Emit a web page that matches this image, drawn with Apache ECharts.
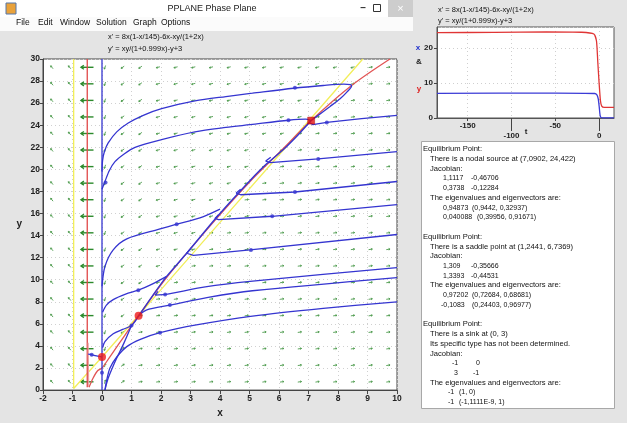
<!DOCTYPE html>
<html>
<head>
<meta charset="utf-8">
<script src="https://cdn.jsdelivr.net/npm/echarts@6/dist/echarts.min.js"></script>
<style>
  html, body { margin: 0; padding: 0; background: #e4e4e4; }
  #main { width: 627px; height: 423px; }
</style>
</head>
<body>
<div id="main"></div>
<script>
// ---- phase plane data ----
const xTicks = { min: -2, max: 10, step: 1 };
const yTicks = { min: 0, max: 30, step: 2 };

// direction field grid: column / row centres and arrow kind per cell
const fieldCols = [-1.7, -1.1, -0.5, 0.1, 0.7, 1.3, 1.9, 2.5, 3.1, 3.7, 4.3, 4.9, 5.5, 6.1, 6.7, 7.3, 7.9, 8.5, 9.1, 9.7];
const fieldRows = [29.25, 27.75, 26.25, 24.75, 23.25, 21.75, 20.25, 18.75, 17.25, 15.75, 14.25, 12.75, 11.25, 9.75, 8.25, 6.75, 5.25, 3.75, 2.25, 0.75];
const fieldDirs = [
  'qqLvddllllllllllllrr',
  'qqLvddlllllllllllrrr',
  'qqLvddllllllllllrrrr',
  'qqLvddlllllllllrrrrr',
  'qqLvddllllllllrrrrrr',
  'qqLvddllllllllrrrrrr',
  'qqLvddlllllllrrrrrrr',
  'qqLvddllllllrrrrrrrr',
  'qqLvddlllllrrrrrrrrr',
  'qqLvddllllrrrrrrrrrr',
  'qqLvddlllrrrrrrrrrrr',
  'qqLvddlllrrrrrrrrrrr',
  'qqLvddllrrrrrrrrrrrr',
  'qqLvddlrrrrrrrrrrrrr',
  'qqLvddrrrrrrrrrrrrrr',
  'qqLvdrrrrrrrrrrrrrrr',
  'qqLvdrrrrrrrrrrrrrrr',
  'qqLverrrrrrrrrrrrrrr',
  'qqLuerrrrrrrrrrrrrrr',
  'qqLuerrrrrrrrrrrrrrr'
];
// arrow heading in degrees (screen, counter-clockwise from +x)
const dirAngle = { q: 130, L: 180, v: 250, d: 215, l: 195, r: 8, e: 35, u: 75 };

// nullclines
const nullY = [[-0.96, 30], [-0.96, 0.15], [0, 3], [1.25, 6.8], [2, 9.1], [4, 15.2], [6, 21.3], [8.84, 30]];
const nullXVert = [[-0.5, 30], [-0.5, 0.25]];
const nullXVert2 = [[-0.47, 4.3], [-0.45, 0.3]];
const nullXCurve = [[-0.44, 0.25], [-0.3, 1.1], [-0.15, 1.75], [0, 2.0], [0.25, 2.95], [0.6, 4.3], [1.24, 6.74], [2.19, 10.2],
  [3.77, 15.2], [5.02, 18.9], [6.0, 21.5], [7.09, 24.42], [8.46, 27.6], [9.76, 30]];

// solution curves
const trajAxis = [[0, 0], [0, 30]];
const trajA = [[0, 19.8], [0.02, 20.8], [0.08, 21.6], [0.21, 22.4], [0.5, 23.4], [0.89, 24.2], [1.4, 24.9], [2.02, 25.5],
  [3.15, 26.2], [4.2, 26.6], [5.1, 26.9], [6.49, 27.35], [7.5, 27.6], [8.2, 27.72], [8.42, 27.68], [8.46, 27.55],
  [8.3, 27.0], [8.07, 26.4], [7.73, 25.7], [7.28, 24.8], [7.09, 24.42]];
const trajDiag = [[7.09, 24.42], [6.71, 23.3], [6.15, 21.8], [5.58, 20.5], [5.02, 19.0], [4.4, 17.2], [3.77, 15.3],
  [2.87, 12.4], [2.19, 10.3], [1.7, 8.5], [1.25, 6.75]];
const trajB = [[0, 18.2], [0.1, 18.9], [0.25, 19.9], [0.44, 20.7], [0.75, 21.4], [1.12, 22.0], [2.02, 22.7], [3.15, 23.4],
  [4.2, 23.8], [5.02, 24.05], [6.32, 24.45], [6.9, 24.55], [7.09, 24.42]];
const trajB2 = [[7.02, 24.25], [7.15, 24.05], [7.62, 24.25], [8.8, 24.6], [10, 24.9]];
const trajE1 = [[5.72, 21.1], [5.55, 20.75], [5.7, 20.62], [7.33, 20.95], [10, 21.6]];
const trajE2 = [[4.7, 18.2], [4.55, 17.85], [4.7, 17.7], [6.54, 17.95], [10, 18.9]];
const trajE3 = [[3.95, 15.9], [3.83, 15.55], [3.95, 15.45], [5.77, 15.75], [10, 16.8]];
const trajE4 = [[3.0, 12.8], [2.87, 12.4], [3.1, 12.2], [5.02, 12.7], [10, 14.1]];
const trajE5 = [[1.9, 8.95], [1.8, 8.6], [2.14, 8.67], [3.5, 9.35], [5.02, 9.85], [10, 11.1]];
const trajE6 = [[1.25, 6.75], [1.5, 7.25], [2.3, 7.7], [3.6, 8.4], [5.1, 9.0], [10, 10.2]];
const trajE7 = [[0.1, 0], [0.15, 0.8], [0.27, 2.0], [0.5, 3.0], [0.84, 3.94], [1.3, 4.6], [1.97, 5.2], [3.2, 5.9],
  [5.1, 6.7], [7.5, 7.4], [10, 8.0]];
const trajF1 = [[0.02, 3.85], [0.1, 4.4], [0.38, 5.1], [0.7, 5.5], [1.0, 5.85], [1.25, 6.75]];
const trajF2 = [[0.1, 0], [0.2, 1.0], [0.35, 2.0], [0.5, 2.9], [0.75, 4.3], [1.0, 5.85]];
const trajC = [[0, 9.4], [0.1, 11.2], [0.38, 12.7], [0.84, 13.7], [1.97, 14.6], [2.53, 15.03], [3.32, 15.6], [4.0, 16.4]];
const trajG = [[0.02, 7.05], [0.15, 7.7], [0.38, 8.2], [0.8, 8.7], [1.23, 9.05], [1.7, 9.6], [2.19, 10.3]];
const trajH = [[-0.47, 3.25], [-0.35, 3.2], [-0.15, 3.08], [0, 3.0]];
const trajDots = [[6.54, 27.4], [6.32, 24.45], [7.62, 24.25], [7.33, 20.95], [6.54, 17.95], [5.77, 15.75], [5.05, 12.7],
  [2.53, 15.03], [1.23, 9.05], [2.14, 8.67], [2.3, 7.7], [1.0, 5.85], [1.97, 5.2], [-0.35, 3.2], [0, 1.57], [0.12, 18.8]];

const sources = [[7.09, 24.42]];
const otherEquilibria = [[1.24, 6.74], [0, 3]];

// t-plot data
const tLabels = [-150, -100, -50, 0];
const tLow = [-100, 0];
const tRed = [[-185, 24.4], [-120, 24.45], [-60, 24.6], [-20, 24.5], [-6, 24.0], [-3, 22], [-1.5, 16], [0, 10], [1.5, 5],
  [3, 3.4], [6, 3.05], [17, 3.05]];
const tBlue = [[-185, 7.05], [-50, 7.1], [-5, 7.0], [-2.5, 6.6], [-1, 5.5], [0, 3.5], [1, 1.0], [2, 0.15], [4, 0.02], [17, 0.02]];

// equilibrium report: [line, x, text, numeric?]
const reportLines = [
  [0, 423, 'Equilibrium Point:'],
  [1, 430, 'There is a nodal source at (7,0902, 24,422)'],
  [2, 430, 'Jacobian:'],
  [3, 443, '1,1117', 1], [3, 471, '-0,46706', 1],
  [4, 443, '0,3738', 1], [4, 471, '-0,12284', 1],
  [5, 430, 'The eigenvalues and eigenvectors are:'],
  [6, 443, '0,94873', 1], [6, 472, '(0,9442, 0,32937)', 1],
  [7, 443, '0,040088', 1], [7, 477, '(0,39956, 0,91671)', 1],
  [9, 423, 'Equilibrium Point:'],
  [10, 430, 'There is a saddle point at (1,2441, 6,7369)'],
  [11, 430, 'Jacobian:'],
  [12, 443, '1,309', 1], [12, 471, '-0,35666', 1],
  [13, 443, '1,3393', 1], [13, 471, '-0,44531', 1],
  [14, 430, 'The eigenvalues and eigenvectors are:'],
  [15, 443, '0,97202', 1], [15, 472, '(0,72684, 0,68681)', 1],
  [16, 441, '-0,1083', 1], [16, 472, '(0,24403, 0,96977)', 1],
  [18, 423, 'Equilibrium Point:'],
  [19, 430, 'There is a sink at (0, 3)'],
  [20, 430, 'Its specific type has not been determined.'],
  [21, 430, 'Jacobian:'],
  [22, 452, '-1', 1], [22, 476, '0', 1],
  [23, 454, '3', 1], [23, 473, '-1', 1],
  [24, 430, 'The eigenvalues and eigenvectors are:'],
  [25, 448, '-1', 1], [25, 459, '(1, 0)', 1],
  [26, 448, '-1', 1], [26, 459, '(-1,1111E-9, 1)', 1]
];

const eqX = "x' = 8x(1-x/145)-6x-xy/(1+2x)";
const eqY = "y' = xy/(1+0.999x)-y+3";

// ---- chart ----
const FONT = 'Liberation Sans, Arial, sans-serif';
const BLUE = '#3535d0';
const chart = echarts.init(document.getElementById('main'));

const fieldData = [];
fieldRows.forEach((y, r) => fieldCols.forEach((x, c) => fieldData.push([x, y, r, c])));

function renderArrow(params, api) {
  const p = api.coord([api.value(0), api.value(1)]);
  const code = fieldDirs[api.value(2)][api.value(3)];
  const big = code === 'L';
  const len = big ? 12.5 : 3.8;
  const a = dirAngle[code] * Math.PI / 180;
  const dx = Math.cos(a), dy = -Math.sin(a);
  const tip = [p[0] + dx * len / 2, p[1] + dy * len / 2];
  const tail = [p[0] - dx * len / 2, p[1] - dy * len / 2];
  const h = big ? 3.5 : 1.6;
  const head = (s) => {
    const ang = Math.PI + s * 0.6;
    const rx = dx * Math.cos(ang) - dy * Math.sin(ang);
    const ry = dx * Math.sin(ang) + dy * Math.cos(ang);
    return [tip[0] + rx * h, tip[1] + ry * h];
  };
  const style = { stroke: big ? '#2c8a2c' : '#4b9a4b', lineWidth: big ? 1.4 : 0.9, fill: null };
  return {
    type: 'group',
    children: [
      { type: 'polyline', shape: { points: [tail, tip] }, style },
      { type: 'polyline', shape: { points: [head(1), tip, head(-1)] }, style }
    ]
  };
}

function curve(data, color, width, smooth) {
  return {
    type: 'line', data, xAxisIndex: 0, yAxisIndex: 0, showSymbol: false, smooth: smooth || 0,
    lineStyle: { color, width: width || 1.2 }, silent: true, clip: true, z: 3
  };
}

const graphics = [
  { type: 'rect', shape: { x: 0, y: 0, width: 413, height: 17 }, style: { fill: '#ffffff' } },
  { type: 'rect', shape: { x: 0, y: 17, width: 413, height: 14 }, style: { fill: '#fbfbfb' } },
  { type: 'rect', shape: { x: 6, y: 3, width: 10, height: 11 }, style: { fill: '#e9a23b', stroke: '#5577aa', lineWidth: 1 } },
  { type: 'text', style: { text: 'PPLANE Phase Plane', x: 212, y: 9, textAlign: 'center', textVerticalAlign: 'middle', font: '9px ' + FONT, fill: '#222' } },
  { type: 'text', style: { text: '–', x: 363, y: 8, textAlign: 'center', textVerticalAlign: 'middle', font: 'bold 10px ' + FONT, fill: '#333' } },
  { type: 'rect', shape: { x: 373.5, y: 4.5, width: 7, height: 7 }, style: { fill: null, stroke: '#333', lineWidth: 1 } },
  { type: 'rect', shape: { x: 388, y: 0, width: 25, height: 17 }, style: { fill: '#cdcdcd' } },
  { type: 'text', style: { text: '×', x: 400.5, y: 8.5, textAlign: 'center', textVerticalAlign: 'middle', font: '11px ' + FONT, fill: '#fff' } },
  { type: 'text', style: { text: eqX, x: 108, y: 37, textVerticalAlign: 'middle', font: '7.5px ' + FONT, fill: '#111' } },
  { type: 'text', style: { text: eqY, x: 108, y: 49, textVerticalAlign: 'middle', font: '7.5px ' + FONT, fill: '#111' } },
  { type: 'text', style: { text: eqX, x: 438, y: 10, textVerticalAlign: 'middle', font: '7.5px ' + FONT, fill: '#111' } },
  { type: 'text', style: { text: eqY, x: 438, y: 21, textVerticalAlign: 'middle', font: '7.5px ' + FONT, fill: '#111' } },
  { type: 'text', style: { text: 'x', x: 418, y: 48, textAlign: 'center', textVerticalAlign: 'middle', font: 'bold 8px ' + FONT, fill: '#2233cc' } },
  { type: 'text', style: { text: '&', x: 419, y: 62, textAlign: 'center', textVerticalAlign: 'middle', font: 'bold 8px ' + FONT, fill: '#222' } },
  { type: 'text', style: { text: 'y', x: 419, y: 89, textAlign: 'center', textVerticalAlign: 'middle', font: 'bold 8px ' + FONT, fill: '#dd2222' } },
  { type: 'text', style: { text: 't', x: 526, y: 132, textAlign: 'center', textVerticalAlign: 'middle', font: 'bold 8px ' + FONT, fill: '#222' } },
  { type: 'rect', shape: { x: 421.5, y: 141.5, width: 193, height: 267 }, style: { fill: '#ffffff', stroke: '#a8a8a8', lineWidth: 1 } }
];
[['File', 16], ['Edit', 38], ['Window', 60], ['Solution', 96], ['Graph', 133], ['Options', 161]].forEach(([t, x]) => {
  graphics.push({ type: 'text', style: { text: t, x, y: 23, textVerticalAlign: 'middle', font: '8.5px ' + FONT, fill: '#111' } });
});
reportLines.forEach(([i, x, t, num]) => {
  graphics.push({ type: 'text', style: { text: t, x, y: 149.3 + i * 9.72, textVerticalAlign: 'middle', font: (num ? '7px ' : '7.6px ') + FONT, fill: '#111' } });
});

const option = {
  animation: false,
  backgroundColor: '#e4e4e4',
  graphic: { elements: graphics },
  grid: [
    { left: 43, top: 59, width: 354, height: 339, show: true, backgroundColor: '#fff', borderColor: '#444', borderWidth: 1 },
    { left: 437, top: 27, width: 177, height: 91, show: true, backgroundColor: '#fff', borderColor: '#555', borderWidth: 1 }
  ],
  xAxis: [
    {
      type: 'value', gridIndex: 0, min: xTicks.min, max: xTicks.max, interval: xTicks.step,
      name: 'x', nameLocation: 'middle', nameGap: 16, nameTextStyle: { fontFamily: FONT, fontWeight: 'bold', fontSize: 10, color: '#222' },
      axisLine: { onZero: false, lineStyle: { color: '#444' } },
      axisTick: { length: 4, lineStyle: { color: '#444' } },
      axisLabel: { margin: 4, fontFamily: FONT, fontWeight: 'bold', fontSize: 8.5, color: '#222' },
      splitLine: { show: true, lineStyle: { color: '#d0d0d0', type: [1, 3] } }
    },
    {
      type: 'value', gridIndex: 1, min: -185, max: 17,
      axisLine: { onZero: false, lineStyle: { color: '#555' } },
      axisTick: { length: 3, customValues: tLabels, lineStyle: { color: '#444' } },
      axisLabel: {
        customValues: tLabels, margin: 4, fontFamily: FONT, fontWeight: 'bold', fontSize: 8, color: '#222',
        formatter: v => (tLow.indexOf(v) >= 0 ? '{lo|' + v + '}' : String(v)),
        rich: { lo: { padding: [10, 0, 0, 0], fontFamily: FONT, fontWeight: 'bold', fontSize: 8, color: '#222' } }
      },
      splitLine: { show: true, lineStyle: { color: '#cfcfcf', type: [1, 3] } }
    },
    {
      type: 'value', gridIndex: 1, min: -185, max: 17, position: 'bottom',
      axisLine: { show: false },
      axisTick: { length: 13, customValues: tLow, lineStyle: { color: '#444' } },
      axisLabel: { show: false }, splitLine: { show: false }
    }
  ],
  yAxis: [
    {
      type: 'value', gridIndex: 0, min: yTicks.min, max: yTicks.max, interval: yTicks.step,
      name: 'y', nameLocation: 'middle', nameGap: 21, nameRotate: 0,
      nameTextStyle: { fontFamily: FONT, fontWeight: 'bold', fontSize: 10, color: '#222' },
      axisLine: { show: true, onZero: false, lineStyle: { color: '#444' } },
      axisTick: { show: true, length: 3, lineStyle: { color: '#444' } },
      axisLabel: { margin: 3, fontFamily: FONT, fontWeight: 'bold', fontSize: 8.5, color: '#222' },
      splitLine: { show: true, lineStyle: { color: '#d0d0d0', type: [1, 3] } }
    },
    {
      type: 'value', gridIndex: 1, min: 0, max: 26, interval: 10,
      axisLine: { show: true, onZero: false, lineStyle: { color: '#555' } },
      axisTick: { show: true, length: 3, lineStyle: { color: '#444' } },
      axisLabel: { margin: 4, showMaxLabel: false, fontFamily: FONT, fontWeight: 'bold', fontSize: 8, color: '#222' },
      splitLine: { show: true, lineStyle: { color: '#cfcfcf', type: [1, 3] } }
    }
  ],
  series: [
    {
      type: 'custom', xAxisIndex: 0, yAxisIndex: 0, data: fieldData, renderItem: renderArrow, clip: true, silent: true, z: 2
    },
    curve(nullY, '#f2ee5a', 1.3),
    curve(nullXVert, '#e04848', 1.3),
    curve(nullXVert2, '#eaa0a0', 1.1),
    curve(nullXCurve, '#e25555', 1.3, 0.3),
    curve(trajAxis, BLUE, 1.3),
    curve(trajA, BLUE, 1.3, 0.3),
    curve(trajDiag, BLUE, 1.4, 0.2),
    curve(trajB, BLUE, 1.3, 0.3),
    curve(trajB2, BLUE, 1.3),
    curve(trajE1, BLUE, 1.3),
    curve(trajE2, BLUE, 1.3),
    curve(trajE3, BLUE, 1.3),
    curve(trajE4, BLUE, 1.3),
    curve(trajE5, BLUE, 1.3, 0.2),
    curve(trajE6, BLUE, 1.3, 0.3),
    curve(trajE7, BLUE, 1.3, 0.3),
    curve(trajF1, BLUE, 1.3, 0.3),
    curve(trajF2, BLUE, 1.3, 0.3),
    curve(trajC, BLUE, 1.3, 0.3),
    curve(trajG, BLUE, 1.3, 0.3),
    curve(trajH, BLUE, 1.3, 0.3),
    {
      type: 'scatter', xAxisIndex: 0, yAxisIndex: 0, data: trajDots, symbol: 'circle', symbolSize: 4,
      itemStyle: { color: BLUE }, silent: true, z: 4
    },
    {
      type: 'scatter', xAxisIndex: 0, yAxisIndex: 0, data: sources, symbol: 'rect', symbolSize: 7,
      itemStyle: { color: '#e01010', borderColor: '#a00', borderWidth: 0.5 }, silent: true, z: 5
    },
    {
      type: 'scatter', xAxisIndex: 0, yAxisIndex: 0, data: otherEquilibria, symbol: 'circle', symbolSize: 8,
      itemStyle: { color: '#ee1a1a' }, silent: true, z: 5
    },
    {
      type: 'line', xAxisIndex: 1, yAxisIndex: 1, data: tRed, showSymbol: false, smooth: 0.2,
      lineStyle: { color: '#e03535', width: 1.3 }, silent: true
    },
    {
      type: 'line', xAxisIndex: 1, yAxisIndex: 1, data: tBlue, showSymbol: false, smooth: 0.2,
      lineStyle: { color: '#3b3bd6', width: 1.3 }, silent: true
    }
  ]
};
chart.setOption(option);
window.addEventListener('resize', () => chart.resize());
</script>
</body>
</html>
